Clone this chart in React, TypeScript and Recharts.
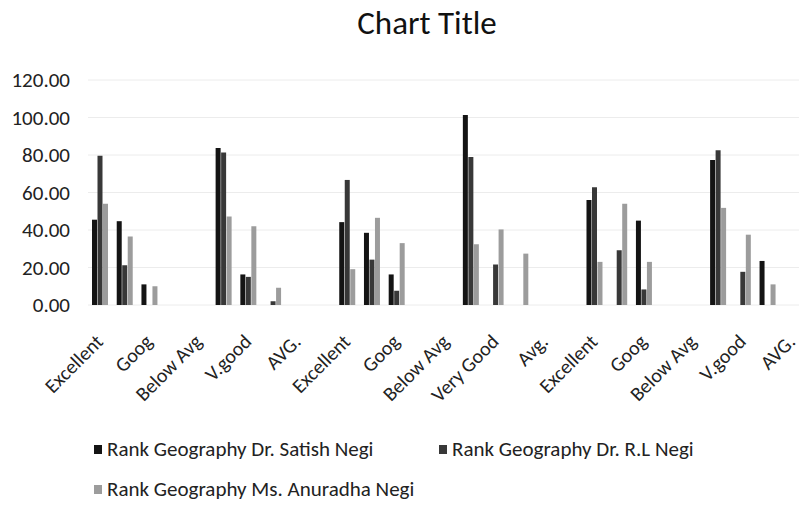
import React from 'react';
import { BarChart, Bar, XAxis, YAxis, CartesianGrid } from 'recharts';

// 29 categories, Excel only prints every second label
const categories = [
  'Excellent', 'V.good', 'Goog', 'AVG.', 'Below Avg',
  'Excellent', 'V.good', 'Goog', 'AVG.', 'Below Avg',
  'Excellent', 'V.good', 'Goog', 'AVG.', 'Below Avg',
  'Excellent', 'Very Good', 'Goog', 'Avg.', 'Below Avg',
  'Excellent', 'V.good', 'Goog', 'AVG.', 'Below Avg',
  'Excellent', 'V.good', 'Goog', 'AVG.',
];

const satishNegi = [
  45.5, 44.7, 11, null, null, 83.7, 16.3, null, null, null,
  44.2, 38.5, 16.3, null, null, 101.3, null, null, null, null,
  56, null, 45, null, null, 77.3, null, 23.5, null,
];
const rlNegi = [
  79.6, 21.2, null, null, null, 81.3, 15, 2, null, null,
  66.7, 24.2, 7.6, null, null, 79, 21.6, null, null, null,
  62.8, 29.2, 8.3, null, null, 82.6, 17.7, null, null,
];
const anuradhaNegi = [
  54, 36.6, 10, null, null, 47.2, 42, 9.2, null, null,
  19.1, 46.5, 33, null, null, 32.4, 40.3, 27.4, null, null,
  23, 54, 23, null, null, 51.8, 37.5, 11, null,
];

const yTicks = [0, 20, 40, 60, 80, 100, 120];

const series = [
  { key: 'satish', name: 'Rank Geography Dr. Satish Negi', color: '#141414' },
  { key: 'rl', name: 'Rank Geography Dr. R.L Negi', color: '#383838' },
  { key: 'anuradha', name: 'Rank Geography Ms. Anuradha Negi', color: '#9c9c9c' },
];

const data = categories.map((name, i) => ({
  name,
  satish: satishNegi[i],
  rl: rlNegi[i],
  anuradha: anuradhaNegi[i],
}));

const FONT = 'Carlito, Lato, "Open Sans", sans-serif';

const AngledTick = (props: any) => {
  const { x, y, payload } = props;
  const ax = x - 6;
  const ay = y + 20;
  return (
    <text
      x={ax}
      y={ay}
      dy="0.7em"
      transform={`rotate(-45 ${ax} ${ay})`}
      textAnchor="end"
      fill="#222"
      fontSize={20}
      fontFamily={FONT}
    >
      {payload.value}
    </text>
  );
};

const LegendItem = ({ color, label, left, top }: { color: string; label: string; left: number; top: number }) => (
  <div style={{ position: 'absolute', left, top, display: 'flex', alignItems: 'center', whiteSpace: 'nowrap' }}>
    <span style={{ width: 8, height: 9, background: color, marginRight: 5, display: 'inline-block' }} />
    <span style={{ fontSize: 21, color: '#222', fontFamily: FONT }}>{label}</span>
  </div>
);

export default function App() {
  return (
    <div style={{ position: 'absolute', left: 0, top: 0, width: 799, height: 506, overflow: 'hidden', background: '#fff' }}>
      <div
        style={{
          position: 'absolute',
          left: 0,
          width: 854,
          top: 3,
          textAlign: 'center',
          fontSize: 33,
          color: '#111',
          fontFamily: FONT,
        }}
      >
        Chart Title
      </div>
      <BarChart
        width={805}
        height={506}
        data={data}
        margin={{ top: 80, right: 0, bottom: 0, left: 0 }}
        barSize={5}
        barGap={0.5}
      >
        <CartesianGrid vertical={false} stroke="#ececec" />
        <XAxis
          dataKey="name"
          interval={1}
          axisLine={false}
          tickLine={false}
          height={201}
          tick={<AngledTick />}
        />
        <YAxis
          width={88}
          domain={[0, 120]}
          ticks={yTicks}
          axisLine={false}
          tickLine={false}
          tickMargin={12}
          tickFormatter={(v: number) => v.toFixed(2)}
          tick={{ fill: '#222', fontSize: 21, fontFamily: FONT }}
        />
        {series.map((s) => (
          <Bar key={s.key} dataKey={s.key} name={s.name} fill={s.color} isAnimationActive={false} />
        ))}
      </BarChart>
      <LegendItem color={series[0].color} label={series[0].name} left={94} top={436} />
      <LegendItem color={series[1].color} label={series[1].name} left={439} top={436} />
      <LegendItem color={series[2].color} label={series[2].name} left={94} top={476} />
    </div>
  );
}
